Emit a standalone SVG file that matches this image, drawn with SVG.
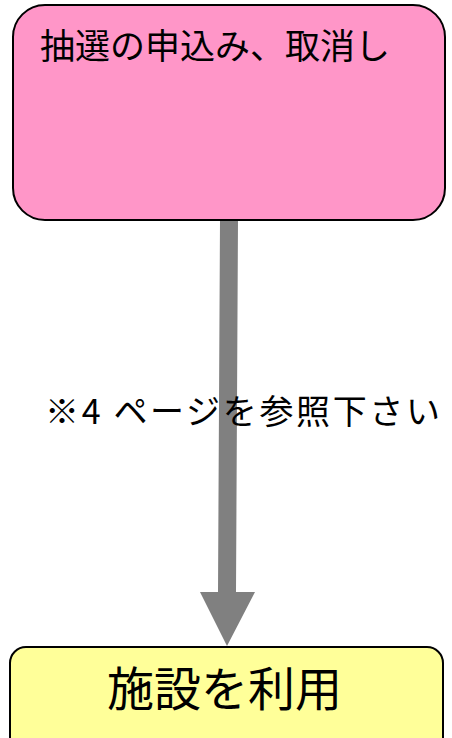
<svg xmlns="http://www.w3.org/2000/svg" width="452" height="738" viewBox="0 0 452 738">
<style>
.t{font-family:"Noto Sans CJK JP","Noto Sans",sans-serif;fill:#000}
.box{stroke:#000;stroke-width:2}
</style>
<rect width="452" height="738" fill="#fff"/>
<g id="connectors">
<polygon points="220,220 238,220 236,592 255,592 227,646 200,592 218,592" fill="#808080"/>
</g>
<g id="node-top">
<rect class="box" x="13" y="5" width="432" height="215" rx="32" fill="#ff96c8"/>
<text class="t" x="40" y="59" font-size="35" textLength="350" lengthAdjust="spacing">抽選の申込み、取消し</text>
</g>
<g id="label">
<text class="t" x="45" y="424" font-size="34" textLength="395" lengthAdjust="spacing">※4 ページを参照下さい</text>
</g>
<g id="node-bottom">
<rect class="box" x="10" y="647" width="433" height="110" rx="16" fill="#ffff99"/>
<text class="t" x="107" y="706" font-size="47">施設を利用</text>
</g>
</svg>
